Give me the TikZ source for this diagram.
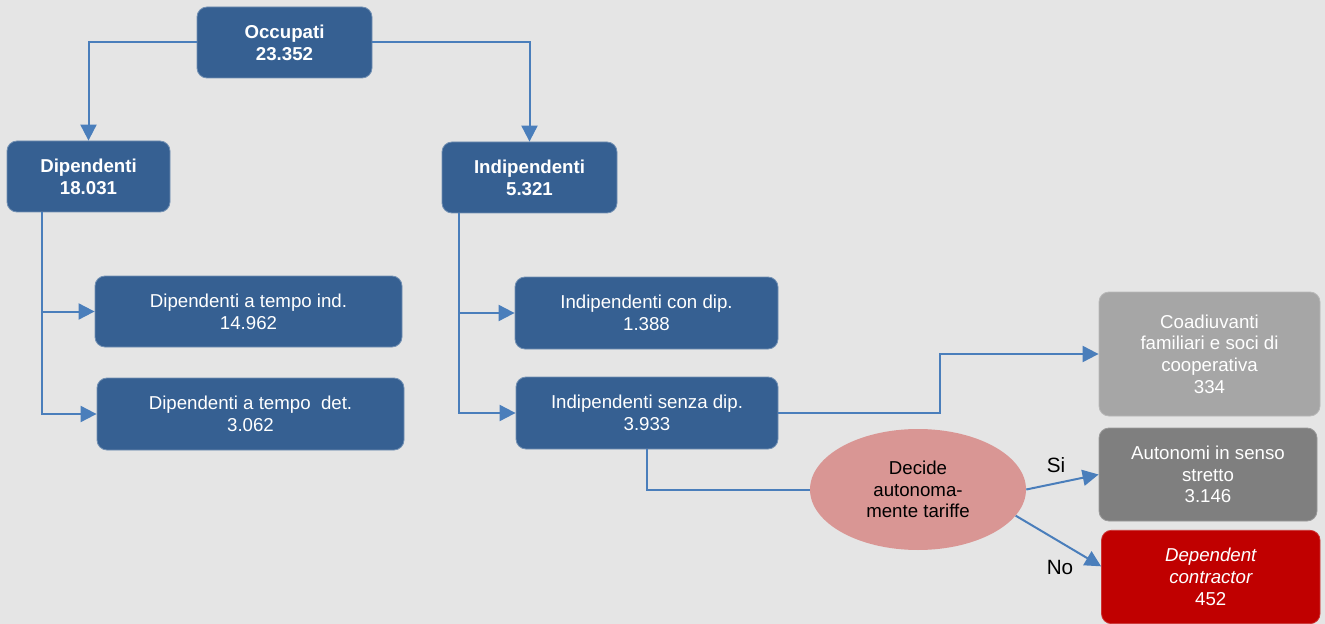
\documentclass[tikz,border=0pt]{standalone}
\usepackage{fontspec}
\setmainfont{Liberation Sans}
\usetikzlibrary{shapes.geometric,arrows.meta}
\definecolor{bg}{HTML}{E5E5E5}
\definecolor{boxblue}{HTML}{366092}
\definecolor{linkblue}{HTML}{4A7EBB}
\definecolor{lgray}{HTML}{A6A6A6}
\definecolor{dgray}{HTML}{7F7F7F}
\definecolor{dred}{HTML}{C00000}
\definecolor{ellpink}{HTML}{D99694}
\tikzset{
  base/.style={rectangle, rounded corners=7.5pt, align=center, inner sep=2pt,
    font=\fontsize{14}{16.3}\selectfont, text=white},
  bluebox/.style={base, fill=boxblue, draw=boxblue!70!white, line width=0.6pt},
  graybox/.style={base, fill=#1, draw=#1!80!white, line width=0.6pt},
  link/.style={draw=linkblue, line width=1.5pt},
  arr/.style={link, -{Triangle[length=12pt,width=12pt]}},
  lbl/.style={font=\fontsize{15.5}{17}\selectfont, text=black}
}
\begin{document}
\begin{tikzpicture}[x=0.75pt,y=-0.75pt]
\fill[bg] (0,0) rectangle (1325,624);
\useasboundingbox (0,0) rectangle (1325,624);

\node[bluebox, minimum width=131.25pt, minimum height=53.25pt, font=\fontsize{14}{16.3}\selectfont\bfseries] (occ) at (284.5,42.5) {Occupati\\23.352};
\node[bluebox, minimum width=122.25pt, minimum height=53.25pt, font=\fontsize{14}{16.3}\selectfont\bfseries] (dip) at (88.5,176.5) {Dipendenti\\18.031};
\node[bluebox, minimum width=131.25pt, minimum height=53.25pt, font=\fontsize{14}{16.3}\selectfont\bfseries] (ind) at (529.5,177.5) {Indipendenti\\5.321};

\node[bluebox, minimum width=230.25pt, minimum height=53.25pt] (dipind) at (248.5,311.5) {Dipendenti a tempo ind.\\14.962};
\node[bluebox, minimum width=230.25pt, minimum height=54pt] (dipdet) at (250.5,414) {Dipendenti a tempo\ \ det.\\3.062};
\node[bluebox, minimum width=197.25pt, minimum height=54pt] (indcon) at (646.5,313) {Indipendenti con dip.\\1.388};
\node[bluebox, minimum width=196.5pt, minimum height=54pt] (indsenza) at (647,413) {Indipendenti senza dip.\\3.933};

\node[graybox=lgray, minimum width=165.75pt, minimum height=93pt] (coad) at (1209.5,354) {Coadiuvanti\\familiari e soci di\\cooperativa\\334};
\node[graybox=dgray, minimum width=163.5pt, minimum height=69.75pt] (auton) at (1208,474.5) {Autonomi in senso\\stretto\\3.146};
\node[graybox=dred, minimum width=163.9pt, minimum height=70pt] (dep) at (1210.75,577) {\itshape Dependent\\\itshape contractor\\452};

\node[ellipse, fill=ellpink, minimum width=162pt, minimum height=90.75pt, inner sep=0pt, align=center, font=\fontsize{14}{16.3}\selectfont] (ell) at (918,489.5) {Decide\\autonoma-\\mente tariffe};

\coordinate (dv) at (42,0);
\coordinate (iv) at (459,0);

\draw[arr] (occ.west) -| (dip.north);
\draw[arr] (occ.east) -| (ind.north);

\draw[arr] (dip.south -| dv) |- (dipdet.west);
\draw[arr] (dv |- dipind.west) -- (dipind.west);

\draw[arr] (ind.south -| iv) |- (indsenza.west);
\draw[arr] (iv |- indcon.west) -- (indcon.west);

\draw[arr] (indsenza.east) -- ++(162,0) |- (coad.west);
\draw[link] (indsenza.south) |- (ell.west);

\draw[arr] (ell.east) -- (auton.west);
\draw[arr] (ell.-15) -- ([yshift=8pt]dep.west);

\node[lbl] (si) at (1056,465) {Si};
\node[lbl] (no) at (1060,567) {No};
\end{tikzpicture}
\end{document}
